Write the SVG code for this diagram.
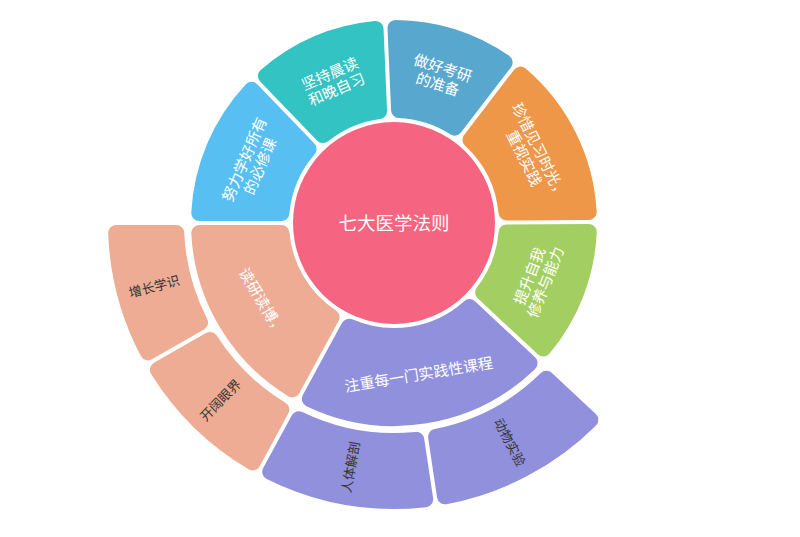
<svg xmlns="http://www.w3.org/2000/svg" width="800" height="537" viewBox="0 0 800 537">
<style>
.seg{stroke-width:16;stroke-linejoin:round}
.l1{font-family:"Noto Sans CJK SC","Noto Sans",sans-serif;font-size:15px;fill:#fff;text-anchor:middle}
.l2{font-family:"Noto Sans CJK SC","Noto Sans",sans-serif;font-size:13px;fill:#333;text-anchor:middle}
.c{font-family:"Noto Sans CJK SC","Noto Sans",sans-serif;font-size:18.5px;fill:#fff;text-anchor:middle}
</style>
<rect width="800" height="537" fill="#fff"/>
<g id="root">
<circle cx="394" cy="223" r="101" fill="#f56480"/>
<text class="c" x="394" y="229.5">七大医学法则</text>
</g>
<g id="teal">
<path class="seg" fill="#33c3c2" stroke="#33c3c2" d="M265.91,75.97 A195,195 0 0 1 375.52,28.88 L379.10,110.99 A113,113 0 0 0 323.00,135.09 Z"/>
<text class="l1" transform="translate(333.2,81.5) rotate(-23.25)"><tspan x="0" y="-3">坚持晨读</tspan><tspan x="0" y="14">和晚自习</tspan></text>
</g>
<g id="blue">
<path class="seg" fill="#58a7ce" stroke="#58a7ce" d="M395.49,28.01 A195,195 0 0 1 504.62,62.41 L454.59,127.62 A113,113 0 0 0 399.08,110.11 Z"/>
<text class="l1" transform="translate(440.3,76.1) rotate(17.5)"><tspan x="0" y="-3">做好考研</tspan><tspan x="0" y="14">的准备</tspan></text>
</g>
<g id="orange">
<path class="seg" fill="#ee9748" stroke="#ee9748" d="M520.48,74.59 A195,195 0 0 1 588.69,211.98 L506.50,212.41 A113,113 0 0 0 470.45,139.79 Z"/>
<text class="l1" transform="translate(531.9,154.5) rotate(63.6)"><tspan x="0" y="-3">珍惜见习时光，</tspan><tspan x="0" y="14">重视实践</tspan></text>
</g>
<g id="green">
<path class="seg" fill="#a3cf62" stroke="#a3cf62" d="M588.79,231.98 A195,195 0 0 1 543.25,348.50 L483.14,292.45 A113,113 0 0 0 506.61,232.41 Z"/>
<text class="l1" transform="translate(537.4,279.1) rotate(-68.65)"><tspan x="0" y="-3">提升自我</tspan><tspan x="0" y="14">修养与能力</tspan></text>
</g>
<g id="purple">
<path class="seg" fill="#9190dc" stroke="#9190dc" d="M529.61,363.13 A195,195 0 0 1 309.86,398.92 L349.08,326.69 A113,113 0 0 0 469.50,307.08 Z"/>
<text class="l1" transform="translate(418.8,375) rotate(-9.25)" x="0" y="5">注重每一门实践性课程</text>
</g>
<g id="salmon">
<path class="seg" fill="#eeac94" stroke="#eeac94" d="M292.29,389.37 A195,195 0 0 1 199.26,233.00 L281.44,233.00 A113,113 0 0 0 331.50,317.15 Z"/>
<text class="l1" transform="translate(261.7,301.7) rotate(59.25)" x="0" y="5">读研读博，</text>
</g>
<g id="lightblue">
<path class="seg" fill="#58bff2" stroke="#58bff2" d="M199.26,213.00 A195,195 0 0 1 251.53,89.86 L308.62,148.98 A113,113 0 0 0 281.44,213.00 Z"/>
<text class="l1" transform="translate(252.2,162.8) rotate(-67)"><tspan x="0" y="-3">努力学好所有</tspan><tspan x="0" y="14">的必修课</tspan></text>
</g>
<g id="kaikuo">
<path class="seg" fill="#eeac94" stroke="#eeac94" d="M252.65,462.38 A278,278 0 0 1 157.89,369.75 L209.99,339.90 A218,218 0 0 0 281.30,409.61 Z"/>
<text class="l2" transform="translate(220.6,400.3) rotate(-45.65)" x="0" y="4.5">开阔眼界</text>
</g>
<g id="zengzhang">
<path class="seg" fill="#eeac94" stroke="#eeac94" d="M147.94,352.39 A278,278 0 0 1 116.18,233.00 L176.23,233.00 A218,218 0 0 0 200.06,322.55 Z"/>
<text class="l2" transform="translate(154.3,286.8) rotate(-14.9)" x="0" y="4.5">增长学识</text>
</g>
<g id="dongwu">
<path class="seg" fill="#9190dc" stroke="#9190dc" d="M590.36,419.79 A278,278 0 0 1 444.96,496.29 L436.08,436.90 A218,218 0 0 0 546.46,378.84 Z"/>
<text class="l2" transform="translate(509.5,442.5) rotate(62.25)" x="0" y="4.5">动物实验</text>
</g>
<g id="renti">
<path class="seg" fill="#9190dc" stroke="#9190dc" d="M425.17,499.25 A278,278 0 0 1 270.23,471.92 L298.88,419.15 A218,218 0 0 0 416.30,439.86 Z"/>
<text class="l2" transform="translate(350.9,467.2) rotate(-80)" x="0" y="4.5">人体解剖</text>
</g>
<g id="connectors"/>
</svg>
